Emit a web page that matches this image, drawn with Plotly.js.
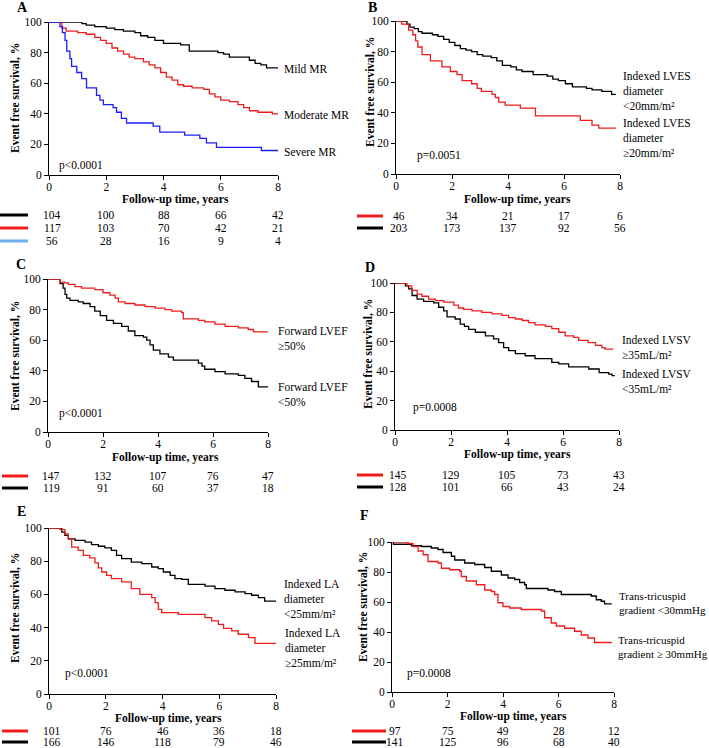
<!DOCTYPE html>
<html><head><meta charset="utf-8">
<script src="https://cdn.plot.ly/plotly-3.0.1.min.js"></script>
<style>html,body{margin:0;padding:0;background:#fff;} #chart{width:709px;height:748px;}</style>
</head><body><div id="chart"></div>
<script>
// ---------- DATA ----------
const xTicks = [0, 2, 4, 6, 8];
const yTicks = [0, 20, 40, 60, 80, 100];
const riskTimes = [0, 2, 4, 6, 8];

// Panel A
const mildT = [0, 1.15, 1.3, 1.6, 2.0, 2.3, 2.6, 3.0, 3.2, 3.45, 3.7, 4.0, 4.6, 4.9, 5.9, 6.1, 6.3, 7.0, 7.2, 7.4, 7.6, 8.0];
const mildS = [100, 99, 98, 97, 96, 95, 94, 93, 91, 90, 88, 86, 85, 81, 80, 79, 77, 75, 73, 72, 70, 70];
const modT = [0, 0.45, 0.6, 1.0, 1.3, 1.6, 1.8, 2.0, 2.2, 2.4, 2.6, 2.8, 3.0, 3.3, 3.5, 3.7, 3.9, 4.1, 4.3, 4.5, 4.7, 5.0, 5.4, 5.6, 5.8, 6.0, 6.3, 6.6, 6.8, 7.0, 7.3, 7.8, 8.0];
const modS = [100, 96, 94, 93, 92, 90, 88, 86, 83, 81, 79, 77, 76, 74, 72, 70, 67, 64, 62, 59, 58, 57, 56, 53, 51, 49, 48, 46, 44, 42, 41, 40, 40];
const sevT = [0, 0.38, 0.47, 0.56, 0.62, 0.73, 0.79, 0.97, 1.14, 1.31, 1.66, 1.78, 1.9, 2.24, 2.36, 2.53, 2.71, 3.64, 3.87, 4.74, 5.27, 5.5, 5.85, 7.42, 8.0];
const sevS = [100, 97, 93, 88, 81, 76, 71, 67, 63, 57, 52, 49, 46, 44, 41, 37, 34, 32, 28, 26, 24, 21, 18, 16, 16];
const riskA_mild = [104, 100, 88, 66, 42];
const riskA_mod = [117, 103, 70, 42, 21];
const riskA_sev = [56, 28, 16, 9, 4];

// Panel B
const bLowT = [0, 0.39, 0.5, 0.65, 0.8, 0.93, 1.3, 1.5, 1.7, 1.9, 2.1, 2.3, 2.5, 2.7, 2.9, 3.1, 3.4, 3.6, 3.8, 4.1, 4.3, 4.5, 4.9, 5.4, 5.6, 5.8, 6.05, 6.3, 6.8, 7.0, 7.35, 7.7, 7.85];
const bLowS = [100, 98, 96, 95, 93, 92, 91, 90, 88, 86, 84, 82, 81, 80, 78, 77, 76, 74, 71, 70, 68, 67, 65, 64, 62, 61, 59, 57, 56, 55, 54, 52, 52];
const bHighT = [0, 0.2, 0.45, 0.6, 0.7, 0.78, 0.93, 1.23, 1.64, 1.94, 2.18, 2.36, 2.7, 2.9, 3.05, 3.43, 3.55, 3.67, 3.9, 4.44, 4.98, 6.58, 7.0, 7.24, 7.85];
const bHighS = [100, 98, 94, 91, 87, 83, 78, 74, 70, 67, 65, 61, 59, 56, 54, 52, 50, 47, 45, 43, 38, 35, 32, 30, 30];
const riskB_high = [46, 34, 21, 17, 6];
const riskB_low = [203, 173, 137, 92, 56];

// Panel C
const cHighT = [0, 0.44, 0.6, 0.74, 0.98, 1.22, 1.7, 2.0, 2.25, 2.44, 2.56, 2.8, 3.16, 3.53, 3.9, 4.25, 4.5, 4.86, 4.92, 5.47, 5.7, 6.07, 6.44, 6.92, 7.28, 7.47, 8.0];
const cHighS = [100, 98, 97.5, 96.5, 95, 94, 93, 91, 89.5, 87.5, 85, 84, 83, 82, 81, 80, 79, 78, 74, 73, 72, 70.5, 69, 68, 67, 65.5, 65.5];
const cLowT = [0, 0.44, 0.55, 0.62, 0.68, 0.8, 1.1, 1.28, 1.53, 1.7, 1.9, 2.13, 2.38, 2.68, 2.92, 3.16, 3.47, 3.59, 3.71, 3.83, 4.07, 4.38, 4.56, 5.47, 5.6, 5.7, 6.07, 6.44, 6.92, 7.16, 7.4, 7.65, 8.0];
const cLowS = [100, 97, 94, 90, 87.5, 86, 85, 84, 82, 79, 76, 73, 71, 69, 66, 63, 62, 60, 57, 53.5, 51, 49, 47, 45, 43, 41, 39.5, 38, 37, 35, 33, 29.5, 29.5];
const riskC_high = [147, 132, 107, 76, 47];
const riskC_low = [119, 91, 60, 37, 18];

// Panel D
const dHighT = [0, 0.43, 0.6, 0.79, 0.96, 1.2, 1.44, 1.74, 2.1, 2.27, 2.45, 2.75, 3.1, 3.46, 3.82, 4.06, 4.3, 4.54, 4.77, 5.0, 5.37, 5.6, 5.85, 6.08, 6.38, 6.56, 6.9, 7.16, 7.39, 7.5, 7.8];
const dHighS = [100, 98, 95, 92.5, 91, 89, 88, 87, 85, 83, 82, 81, 80, 79, 78, 76.5, 75.5, 74.5, 73, 71.5, 70.5, 69, 66.5, 64, 63, 61, 59.5, 57.5, 56, 55, 55];
const dLowT = [0, 0.37, 0.49, 0.61, 0.79, 1.02, 1.38, 1.56, 1.74, 1.86, 2.15, 2.33, 2.48, 2.63, 2.87, 3.23, 3.52, 3.7, 3.88, 4.06, 4.3, 4.65, 5.0, 5.6, 5.85, 6.2, 6.92, 7.29, 7.63, 7.75, 7.85];
const dLowS = [100, 98, 96, 91.5, 89, 87.5, 86.5, 83.5, 81, 77, 75.5, 72, 70.5, 68.5, 66.5, 64, 62, 59.5, 56, 54, 52, 50.5, 48.5, 46, 45, 43, 41.5, 39, 38, 37, 37];
const riskD_high = [145, 129, 105, 73, 43];
const riskD_low = [128, 101, 66, 43, 24];

// Panel E
const eLowT = [0, 0.45, 0.56, 0.68, 0.92, 1.27, 1.5, 1.74, 1.97, 2.2, 2.38, 2.56, 2.9, 3.27, 3.62, 3.85, 4.03, 4.27, 4.44, 4.68, 4.91, 5.5, 5.85, 6.2, 6.56, 6.91, 7.14, 7.38, 7.6, 8.0];
const eLowS = [100, 97.5, 95.5, 93.5, 92.5, 91.5, 90, 89, 88, 86.5, 83.5, 81.5, 79.5, 78.5, 76.5, 75.5, 73.5, 71.5, 69.5, 69, 66, 65, 63.5, 62.5, 61.5, 60.5, 59.5, 58, 56, 56];
const eHighT = [0, 0.39, 0.56, 0.68, 0.8, 1.03, 1.21, 1.44, 1.62, 1.74, 1.86, 2.03, 2.2, 2.56, 2.9, 3.2, 3.62, 3.74, 3.85, 3.97, 4.56, 5.5, 5.73, 5.97, 6.15, 6.44, 6.67, 7.03, 7.26, 8.0];
const eHighS = [100, 99, 96.5, 93.5, 88.5, 86.5, 83.5, 82, 79, 76, 73.5, 71.5, 69.5, 67.5, 63.5, 60, 58, 55, 51, 49, 48, 46, 44, 42, 39.5, 38, 36, 34, 30.5, 30.5];
const riskE_high = [101, 76, 46, 36, 18];
const riskE_low = [166, 146, 118, 79, 46];

// Panel F
const fLowT = [0, 0.05, 0.7, 1.06, 1.42, 1.66, 1.84, 2.14, 2.26, 2.62, 2.98, 3.34, 3.58, 3.94, 4.18, 4.42, 4.6, 4.78, 4.84, 5.62, 5.86, 6.1, 7.18, 7.36, 7.54, 7.66, 7.92];
const fLowS = [100, 98.5, 97.5, 97, 96, 95, 93, 90.5, 88, 86, 85, 83, 80.5, 78, 76, 75, 73, 71.5, 69, 68, 67, 65, 64, 61.5, 60.5, 58.7, 58.7];
const fHighT = [0, 0.58, 0.76, 0.94, 1.12, 1.3, 1.66, 1.78, 2.08, 2.44, 2.5, 2.68, 3.04, 3.34, 3.58, 3.7, 3.82, 4.0, 4.24, 4.66, 5.38, 5.5, 5.74, 5.92, 6.22, 6.58, 6.82, 7.06, 7.3, 7.92];
const fHighS = [100, 99, 97, 94, 91.5, 87, 86, 82.5, 81.5, 80.5, 77, 74, 71.5, 68, 67, 65, 59.5, 57, 56, 55, 54, 49.5, 46, 44, 42.5, 40.5, 38, 36, 33, 33];
const riskF_high = [97, 75, 49, 28, 12];
const riskF_low = [141, 125, 96, 68, 40];

// ---------- LAYOUT / STYLE ----------
const W = 709, H = 748;
const FONT = 'Liberation Serif, Times New Roman, serif';
const FS = 11.5;
const RED = '#ee1c1c', BLACK = '#000000', BLUE = '#1c1cff', LBLUE = '#6fb0ea';
const px = v => v / W;
const py = v => 1 - v / H;

const panels = [
  {letter:'A', box:[49,278,22,175], lpos:[22,7], p:['p&lt;0.0001',81,165], xt:[175,199], yt:[15,98],
   curves:[[mildT,mildS,BLACK],[modT,modS,RED],[sevT,sevS,BLUE]],
   labels:[[282,69,'Mild MR'],[282,115,'Moderate MR'],[282,152,'Severe MR']], lfs:FS,
   risk:[[riskA_mild,215,BLACK],[riskA_mod,228,RED],[riskA_sev,241,LBLUE]], sw:[0,28]},
  {letter:'B', box:[396,620,21,174], lpos:[372,7], p:['p=0.0051',439,155], xt:[517,199], yt:[370,92],
   curves:[[bLowT,bLowS,BLACK],[bHighT,bHighS,RED]],
   labels:[[621,91.5,'Indexed LVES<br>diameter<br>&lt;20mm/m²'],[621,137.5,'Indexed LVES<br>diameter<br>≥20mm/m²']], lfs:FS,
   risk:[[riskB_high,216,RED],[riskB_low,228,BLACK]], sw:[357,383]},
  {letter:'C', box:[48,268,279,432], lpos:[21,264], p:['p&lt;0.0001',81,413], xt:[165,457], yt:[15,356],
   curves:[[cLowT,cLowS,BLACK],[cHighT,cHighS,RED]],
   labels:[[276,339,'Forward LVEF<br>≥50%'],[276,394,'Forward LVEF<br>&lt;50%']], lfs:FS,
   risk:[[riskC_high,476,RED],[riskC_low,488,BLACK]], sw:[2,28]},
  {letter:'D', box:[395,619,283,430], lpos:[370,267], p:['p=0.0008',435,408], xt:[517,454], yt:[368,354],
   curves:[[dLowT,dLowS,BLACK],[dHighT,dHighS,RED]],
   labels:[[620,347,'Indexed LVSV<br>≥35mL/m²'],[620,381.5,'Indexed LVSV<br>&lt;35mL/m²']], lfs:FS,
   risk:[[riskD_high,475,RED],[riskD_low,487,BLACK]], sw:[357,383]},
  {letter:'E', box:[49,276,528,694], lpos:[21,512], p:['p&lt;0.0001',87,673], xt:[168,718], yt:[15,608],
   curves:[[eLowT,eLowS,BLACK],[eHighT,eHighS,RED]],
   labels:[[282,599,'Indexed LA<br>diameter<br>&lt;25mm/m²'],[283,648,'Indexed LA<br>diameter<br>≥25mm/m²']], lfs:FS,
   risk:[[riskE_high,731,RED],[riskE_low,742,BLACK]], sw:[2,28]},
  {letter:'F', box:[392,614,542,692], lpos:[364,515], p:['p=0.0008',429,673], xt:[513,716], yt:[363,607],
   curves:[[fLowT,fLowS,BLACK],[fHighT,fHighS,RED]],
   labels:[[617,602.5,'Trans-tricuspid<br>gradient &lt;30mmHg'],[616,647,'Trans-tricuspid<br>gradient ≥ 30mmHg']], lfs:11,
   risk:[[riskF_high,731,RED],[riskF_low,742,BLACK]], sw:[352,386]}
];

const traces = [];
const layout = {
  width: W, height: H, margin: {l:0, r:0, t:0, b:0},
  paper_bgcolor: '#fff', plot_bgcolor: 'rgba(0,0,0,0)', showlegend: false,
  font: {family: FONT, size: FS, color: '#000'},
  annotations: [], shapes: []
};
const txtFont = (size) => ({family: FONT, size: size, color: '#000'});

panels.forEach((P, i) => {
  const n = i === 0 ? '' : String(i + 1);
  const xa = 'x' + n, ya = 'y' + n;
  const axCommon = {
    ticks: 'outside', ticklen: 4, tickwidth: 1, tickcolor: '#000',
    showline: true, linecolor: '#000', linewidth: 1,
    showgrid: false, zeroline: false, fixedrange: true,
    tickfont: {family: FONT, size: FS, color: '#000'}
  };
  layout['xaxis' + n] = Object.assign({}, axCommon, {
    domain: [px(P.box[0]), px(P.box[1])], range: [0, 8], tickvals: xTicks, anchor: ya,
    ticklabelstandoff: -3
  });
  layout['yaxis' + n] = Object.assign({}, axCommon, {
    domain: [py(P.box[3]), py(P.box[2])], range: [0, 100], tickvals: yTicks, anchor: xa
  });
  P.curves.forEach(c => {
    traces.push({x: c[0], y: c[1], xaxis: xa, yaxis: ya, mode: 'lines',
      line: {shape: 'hv', color: c[2], width: 1.3}, hoverinfo: 'skip'});
  });
  const A = layout.annotations;
  A.push({xref:'paper', yref:'paper', x:px(P.lpos[0]), y:py(P.lpos[1]), text:'<b>'+P.letter+'</b>',
    showarrow:false, xanchor:'center', yanchor:'middle', font:txtFont(14)});
  A.push({xref:'paper', yref:'paper', x:px(P.p[1]), y:py(P.p[2]), text:P.p[0],
    showarrow:false, xanchor:'center', yanchor:'middle', font:txtFont(FS)});
  A.push({xref:'paper', yref:'paper', x:px(P.xt[0]), y:py(P.xt[1]), text:'<b>Follow-up time, years</b>',
    showarrow:false, xanchor:'center', yanchor:'middle', font:txtFont(FS)});
  A.push({xref:'paper', yref:'paper', x:px(P.yt[0]), y:py(P.yt[1]), text:'<b>Event free survival, %</b>',
    textangle:-90, showarrow:false, xanchor:'center', yanchor:'middle', font:txtFont(FS)});
  P.labels.forEach(l => {
    A.push({xref:'paper', yref:'paper', x:px(l[0]), y:py(l[1]), text:l[2], align:'left',
      showarrow:false, xanchor:'left', yanchor:'middle', font:txtFont(P.lfs)});
  });
  P.risk.forEach(r => {
    r[0].forEach((v, k) => {
      A.push({xref:xa, yref:'paper', x:riskTimes[k], y:py(r[1]), text:String(v),
        showarrow:false, xanchor:'center', yanchor:'middle', xshift: k === 0 ? 3 : 0, font:txtFont(FS)});
    });
    layout.shapes.push({type:'line', xref:'paper', yref:'paper', x0:px(P.sw[0]), x1:px(P.sw[1]),
      y0:py(r[1]), y1:py(r[1]), line:{color:r[2], width:3}});
  });
});

Plotly.newPlot('chart', traces, layout, {staticPlot: true, displayModeBar: false});
</script>
</body></html>
